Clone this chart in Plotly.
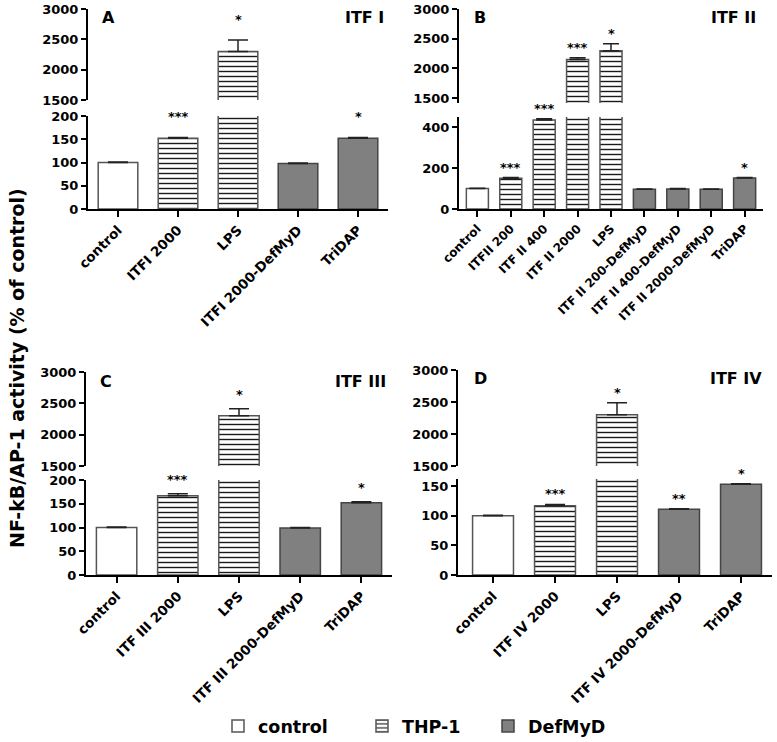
import plotly.graph_objects as go

# ---------------- data ----------------
A_categories = ["control", "ITFI 2000", "LPS", "ITFI 2000-DefMyD", "TriDAP"]
A_values = [100, 152, 2300, 98, 152]
A_errors = [1, 2, 190, 1, 2]
A_groups = ["control", "THP-1", "THP-1", "DefMyD", "DefMyD"]
A_stars = ["", "***", "*", "", "*"]

B_categories = ["control", "ITFII 200", "ITF II 400", "ITF II 2000", "LPS",
                "ITF II 200-DefMyD", "ITF II 400-DefMyD", "ITF II 2000-DefMyD", "TriDAP"]
B_values = [100, 151, 435, 2150, 2300, 97, 98, 97, 152]
B_errors = [1, 3, 7, 30, 115, 1, 2, 1, 2]
B_groups = ["control", "THP-1", "THP-1", "THP-1", "THP-1", "DefMyD", "DefMyD", "DefMyD", "DefMyD"]
B_stars = ["", "***", "***", "***", "*", "", "", "", "*"]

C_categories = ["control", "ITF III 2000", "LPS", "ITF III 2000-DefMyD", "TriDAP"]
C_values = [100, 167, 2300, 99, 152]
C_errors = [1, 4, 115, 1, 2]
C_groups = ["control", "THP-1", "THP-1", "DefMyD", "DefMyD"]
C_stars = ["", "***", "*", "", "*"]

D_categories = ["control", "ITF IV 2000", "LPS", "ITF IV 2000-DefMyD", "TriDAP"]
D_values = [100, 117, 2300, 111, 153]
D_errors = [1, 2, 190, 1, 1]
D_groups = ["control", "THP-1", "THP-1", "DefMyD", "DefMyD"]
D_stars = ["", "***", "*", "**", "*"]

panel_letters = ["A", "B", "C", "D"]
panel_titles = ["ITF I", "ITF II", "ITF III", "ITF IV"]
upper_ticks = [1500, 2000, 2500, 3000]
lower_ticks = [[0, 50, 100, 150, 200], [0, 200, 400], [0, 50, 100, 150, 200], [0, 50, 100, 150]]
y_title = "NF-kB/AP-1 activity (% of control)"
legend_names = ["control", "THP-1", "DefMyD"]

# ---------------- layout / style (pixels) ----------------
W, H = 777, 742
FONT = "DejaVu Sans"
panels = [
    dict(cats=A_categories, vals=A_values, errs=A_errors, groups=A_groups, stars=A_stars,
         xpx=(88, 388), xr=(-0.5, 4.5), up=(9, 100), upr=(1500, 3000), lo=(116, 209), lor=(0, 200),
         star_shift=11, cap=10, lab=(100, 18), ttl=(386, 17), xfs=13.5),
    dict(cats=B_categories, vals=B_values, errs=B_errors, groups=B_groups, stars=B_stars,
         xpx=(459, 763), xr=(-0.55, 8.55), up=(9, 103), upr=(1420, 3000), lo=(117, 209), lor=(0, 450),
         star_shift=1, cap=8, lab=(472, 17), ttl=(758, 17), xfs=12),
    dict(cats=C_categories, vals=C_values, errs=C_errors, groups=C_groups, stars=C_stars,
         xpx=(86, 392), xr=(-0.5, 4.5), up=(372, 466), upr=(1500, 3000), lo=(480, 575), lor=(0, 200),
         star_shift=5, cap=10, lab=(98, 381), ttl=(388, 381), xfs=13.5),
    dict(cats=D_categories, vals=D_values, errs=D_errors, groups=D_groups, stars=D_stars,
         xpx=(458, 772), xr=(-0.565, 4.5), up=(370, 466), upr=(1500, 3000), lo=(479, 575), lor=(0, 162),
         star_shift=1, cap=10, lab=(472, 378), ttl=(764, 378), xfs=13.5),
]

group_style = {
    "control": dict(color="white", pattern=dict(shape=""), line="#555555"),
    "THP-1": dict(color="white", pattern=dict(shape="-", size=5, solidity=0.28,
                                              fgcolor="#1a1a1a", bgcolor="white", fillmode="replace"),
                  line="#555555"),
    "DefMyD": dict(color="#808080", pattern=dict(shape=""), line="#444444"),
}
# x pixel of each legend entry's text start, and its legend id
legend_text_x = {"control": 259, "THP-1": 403, "DefMyD": 529}
legend_ids = {"control": "legend", "THP-1": "legend2", "DefMyD": "legend3"}


def fx(px):
    return px / W


def fy(py):
    return 1 - py / H


fig = go.Figure()
layout = dict()
annotations = []

for i, p in enumerate(panels):
    for part in ("up", "lo"):
        k = 2 * i + (1 if part == "up" else 2)
        xa = "x" if k == 1 else f"x{k}"
        ya = "y" if k == 1 else f"y{k}"
        for g in legend_names:
            idx = [j for j, gg in enumerate(p["groups"]) if gg == g]
            st = group_style[g]
            fig.add_trace(go.Bar(
                x=[p["cats"][j] for j in idx],
                y=[p["vals"][j] for j in idx],
                name=g, legendgroup=g, legend=legend_ids[g],
                showlegend=(i == 0 and part == "lo"),
                xaxis=xa, yaxis=ya,
                marker=dict(color=st["color"], pattern=st["pattern"],
                            line=dict(color=st["line"], width=1.5)),
                error_y=dict(type="data", symmetric=False,
                             array=[p["errs"][j] for j in idx],
                             arrayminus=[0] * len(idx),
                             color="#222222", thickness=1.5, width=p["cap"]),
            ))
        xkey = "xaxis" if k == 1 else f"xaxis{k}"
        ykey = "yaxis" if k == 1 else f"yaxis{k}"
        ydom = p[part]
        layout[xkey] = dict(
            domain=[fx(p["xpx"][0]), fx(p["xpx"][1])], anchor=ya, automargin=False,
            type="category", categoryorder="array", categoryarray=p["cats"],
            range=list(p["xr"]), showgrid=False, zeroline=False,
            showline=(part == "lo"), linecolor="black", linewidth=2,
            ticks="outside" if part == "lo" else "", ticklen=6, tickwidth=2, tickcolor="black",
            showticklabels=(part == "lo"), tickangle=-45,
            tickfont=dict(family=FONT, size=p["xfs"], color="black", weight="bold"),
            fixedrange=True,
        )
        rng = p["upr"] if part == "up" else p["lor"]
        tv = upper_ticks if part == "up" else lower_ticks[i]
        layout[ykey] = dict(
            domain=[fy(ydom[1]), fy(ydom[0])], anchor=xa, automargin=False,
            range=list(rng), tickmode="array", tickvals=tv, tickformat="d",
            showgrid=False, zeroline=False, showline=True, linecolor="black", linewidth=2,
            ticks="outside", ticklen=5, tickwidth=2, tickcolor="black",
            tickfont=dict(family=FONT, size=13, color="black", weight="bold"),
            fixedrange=True,
        )
    # significance stars
    for j, s in enumerate(p["stars"]):
        if not s:
            continue
        top = p["vals"][j] + p["errs"][j]
        k = 2 * i + (1 if top > p["lor"][1] else 2)
        annotations.append(dict(
            x=p["cats"][j], y=top, xref="x" if k == 1 else f"x{k}", yref="y" if k == 1 else f"y{k}",
            text=s, showarrow=False, yanchor="bottom", yshift=p["star_shift"],
            font=dict(family=FONT, size=13, color="black", weight="bold"),
        ))
    annotations.append(dict(x=fx(p["lab"][0]), y=fy(p["lab"][1]), xref="paper", yref="paper",
                            text=panel_letters[i], showarrow=False, xanchor="left", yanchor="middle",
                            font=dict(family=FONT, size=16, color="black", weight="bold")))
    annotations.append(dict(x=fx(p["ttl"][0]), y=fy(p["ttl"][1]), xref="paper", yref="paper",
                            text=panel_titles[i], showarrow=False, xanchor="right", yanchor="middle",
                            font=dict(family=FONT, size=16, color="black", weight="bold")))

annotations.append(dict(x=fx(17), y=fy(368), xref="paper", yref="paper", text=y_title,
                        showarrow=False, textangle=-90, xanchor="center", yanchor="middle",
                        font=dict(family=FONT, size=19, color="black", weight="bold")))

layout.update(
    width=W, height=H, margin=dict(l=0, r=0, t=0, b=0, autoexpand=False),
    paper_bgcolor="white", plot_bgcolor="white",
    barmode="overlay", bargap=0.34,
    annotations=annotations,
    showlegend=True,
)
for g in legend_names:
    layout[legend_ids[g]] = dict(
        orientation="h", x=fx(legend_text_x[g] - 41), y=fy(726), xanchor="left", yanchor="middle",
        font=dict(family=FONT, size=17.5, color="black", weight="bold"),
        itemwidth=30, bgcolor="rgba(0,0,0,0)",
    )
fig.update_layout(**layout)
fig.write_html("out.html", config={"displayModeBar": False},
               post_script="document.body.style.margin='0px';"
                           "document.documentElement.style.overflow='hidden';")
